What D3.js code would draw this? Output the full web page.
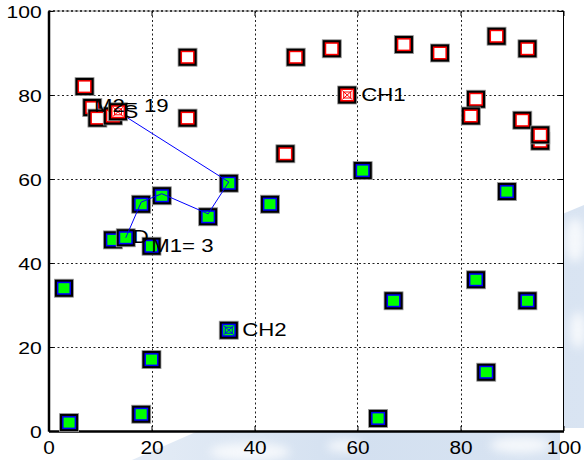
<!DOCTYPE html>
<html><head><meta charset="utf-8">
<script src="https://cdn.jsdelivr.net/npm/d3@7/dist/d3.min.js"></script>
<style>
html,body{margin:0;padding:0;background:#fff;}
svg{display:block;font-family:"Liberation Sans",Arial,sans-serif;}
</style></head>
<body>
<svg id="chart" width="584" height="460"></svg>
<script>
// ---- data ----
const xTicks = [0, 20, 40, 60, 80, 100];
const yTicks = [0, 20, 40, 60, 80, 100];
const gridTicks = [20, 40, 60, 80];

// cluster 2 members (red)
const redX = [7, 8.5, 9.5, 12.5, 27, 27, 46, 48, 55, 69, 76, 87, 93, 83, 82, 92, 95.5, 95.5];
const redY = [82, 77, 74.5, 75, 89, 74.5, 66, 89, 91, 92, 90, 94, 91, 79, 75, 74, 69, 70.5];

// cluster 1 members (green)
const greenX = [3, 4, 18, 20, 12.5, 15, 20, 18, 22, 31, 35, 43, 61, 67, 64, 83, 85, 89, 93];
const greenY = [34, 2, 4, 17, 45.5, 46, 44, 54, 56, 51, 59, 54, 62, 31, 3, 36, 14, 57, 31];

// cluster heads / special nodes
const headNames = ["CH1", "CH2", "S"];
const headX = [58, 35, 13.5];
const headY = [80, 24, 76];
const headCluster = ["red", "green", "red"];

// route S -> D
const pathX = [13.5, 35, 31, 22, 18, 15];
const pathY = [76, 59.3, 51.7, 56.5, 54.5, 46];

// text annotations
const labelTexts = ["CH1", "CH2", "S", "M2= 19", "D", "M1= 3"];
const labelX = [58, 35, 13.5, 13.5, 15, 15];
const labelY = [80, 24, 76, 76, 46, 46];

// ---- layout ----
const svg = d3.select("#chart");
const x = d3.scaleLinear().domain([0, 100]).range([48.5, 563.5]);
const y = d3.scaleLinear().domain([0, 100]).range([431, 11]);

// background watermark
const defs = svg.append("defs");
const grad = defs.append("linearGradient").attr("id", "wm").attr("x1", "0").attr("y1", "0").attr("x2", "1").attr("y2", "0");
grad.append("stop").attr("offset", "0").attr("stop-color", "#e4ecf6");
grad.append("stop").attr("offset", "0.5").attr("stop-color", "#d3e0f0");
grad.append("stop").attr("offset", "1").attr("stop-color", "#d9e4f2");
const blur = defs.append("filter").attr("id", "bl").attr("x", "-50%").attr("y", "-50%").attr("width", "200%").attr("height", "200%");
blur.append("feGaussianBlur").attr("stdDeviation", 5);
svg.append("path").attr("d", "M132,460 L205,428 L584,428 L584,205 L560,215 L560,460 Z").attr("fill", "url(#wm)");
const wmBlobs = [[250, 452, 40, 9], [345, 446, 18, 6], [520, 445, 30, 8], [575, 240, 10, 22], [578, 330, 8, 18]];
svg.append("g").selectAll("ellipse").data(wmBlobs).join("ellipse")
  .attr("cx", d => d[0]).attr("cy", d => d[1]).attr("rx", d => d[2]).attr("ry", d => d[3])
  .attr("fill", "#ffffff").attr("opacity", 0.75).attr("filter", "url(#bl)");

// plot background
svg.append("rect").attr("x", x(0)).attr("y", y(100)).attr("width", x(100) - x(0)).attr("height", y(0) - y(100)).attr("fill", "#fff");

// grid
const grid = svg.append("g").attr("stroke", "#222").attr("stroke-width", 1).attr("stroke-dasharray", "2,2.5");
grid.selectAll("line.v").data(gridTicks).join("line").attr("class", "v")
  .attr("x1", d => Math.round(x(d)) + 0.5).attr("x2", d => Math.round(x(d)) + 0.5).attr("y1", y(100)).attr("y2", y(0));
grid.selectAll("line.h").data(gridTicks).join("line").attr("class", "h")
  .attr("y1", d => Math.round(y(d)) + 0.5).attr("y2", d => Math.round(y(d)) + 0.5).attr("x1", x(0)).attr("x2", x(100));

// box top/right
svg.append("line").attr("x1", x(0)).attr("x2", x(100)).attr("y1", y(100)).attr("y2", y(100)).attr("stroke", "#999").attr("stroke-width", 1);
svg.append("line").attr("x1", x(0)).attr("x2", x(100)).attr("y1", y(100)).attr("y2", y(100)).attr("stroke", "#111").attr("stroke-width", 1.5).attr("stroke-dasharray", "2,2.5");
svg.append("line").attr("x1", x(100)).attr("x2", x(100)).attr("y1", y(100)).attr("y2", y(0)).attr("stroke", "#000").attr("stroke-width", 1);

// mirrored ticks
svg.append("g").attr("transform", `translate(0,${y(100)})`).call(d3.axisTop(x).tickValues(xTicks).tickSizeInner(-5).tickSizeOuter(0).tickFormat(""))
  .call(g => g.select(".domain").remove()).selectAll("line").attr("stroke", "#000");
svg.append("g").attr("transform", `translate(${x(100)},0)`).call(d3.axisRight(y).tickValues(yTicks).tickSizeInner(-5).tickSizeOuter(0).tickFormat(""))
  .call(g => g.select(".domain").remove()).selectAll("line").attr("stroke", "#000");

// left axis
const ax = svg.append("g").attr("transform", `translate(${x(0)},0)`)
  .call(d3.axisLeft(y).tickValues(yTicks).tickSizeInner(-5).tickSizeOuter(0).tickPadding(5.2));
ax.select(".domain").attr("stroke", "#000").attr("stroke-width", 2.5);
ax.selectAll(".tick line").attr("stroke", "#000");
ax.selectAll(".tick text").attr("font-size", 16).attr("font-family", "Liberation Sans, Arial, sans-serif")
  .attr("fill", "#000").attr("dy", "0.38em").attr("transform", "scale(1.32,1)");

// bottom axis
const bx = svg.append("g").attr("transform", `translate(0,${y(0)})`)
  .call(d3.axisBottom(x).tickValues(xTicks).tickSizeInner(-5).tickSizeOuter(0).tickPadding(9.5));
bx.select(".domain").attr("stroke", "#000").attr("stroke-width", 2.5);
bx.selectAll(".tick line").attr("stroke", "#000");
bx.selectAll(".tick text").attr("font-size", 16).attr("font-family", "Liberation Sans, Arial, sans-serif")
  .attr("fill", "#000").attr("dy", "0.71em").attr("transform", "scale(1.3,1.12)");

// markers
const palette = {
  red: { edge: "#ff0000", fill: "#ffffff" },
  green: { edge: "#0000ff", fill: "#00ff00" }
};
function drawMarkers(g, xs, ys, key, crossed) {
  const c = palette[key];
  const pts = xs.map((v, i) => [x(v), y(ys[i])]);
  const m = g.selectAll("g.m").data(pts).join("g").attr("class", "m")
    .attr("transform", d => `translate(${d[0]},${d[1]})`);
  m.append("rect").attr("x", -9.5).attr("y", -9).attr("width", 19).attr("height", 18)
    .attr("fill", "#000").attr("stroke", "#9a9a9a").attr("stroke-width", 0.8);
  m.append("rect").attr("x", -7).attr("y", -6.5).attr("width", 14).attr("height", 13).attr("fill", c.edge);
  m.append("rect").attr("x", -5.5).attr("y", -5).attr("width", 11).attr("height", 10).attr("fill", c.fill);
  if (crossed) {
    m.append("rect").attr("x", -3.5).attr("y", -3).attr("width", 7).attr("height", 6)
      .attr("fill", "none").attr("stroke", c.edge).attr("stroke-width", 1);
    m.append("path").attr("d", "M-5,-4.5L5,4.5M-5,4.5L5,-4.5").attr("stroke", c.edge).attr("stroke-width", 1);
  }
}
drawMarkers(svg.append("g"), redX, redY, "red", false);
drawMarkers(svg.append("g"), greenX, greenY, "green", false);

// route line
const line = d3.line().x((d, i) => x(pathX[i])).y((d, i) => y(pathY[i]));
svg.append("path").datum(pathX).attr("d", line).attr("fill", "none").attr("stroke", "#0000ff").attr("stroke-width", 1);

// head markers
headX.forEach((v, i) => {
  drawMarkers(svg.append("g"), [v], [headY[i]], headCluster[i], true);
});

// labels
const labelOffsets = [[14, 6], [13.5, 6], [5.5, 6.5], [-24, 0.5], [7, 5.5], [25.5, 14]];
svg.append("g").selectAll("text").data(labelTexts).join("text")
  .attr("transform", (d, i) => `translate(${x(labelX[i]) + labelOffsets[i][0]},${y(labelY[i]) + labelOffsets[i][1]}) scale(1.2,1)`)
  .attr("font-size", 18.5).attr("fill", "#000").text(d => d);
</script>
</body></html>
